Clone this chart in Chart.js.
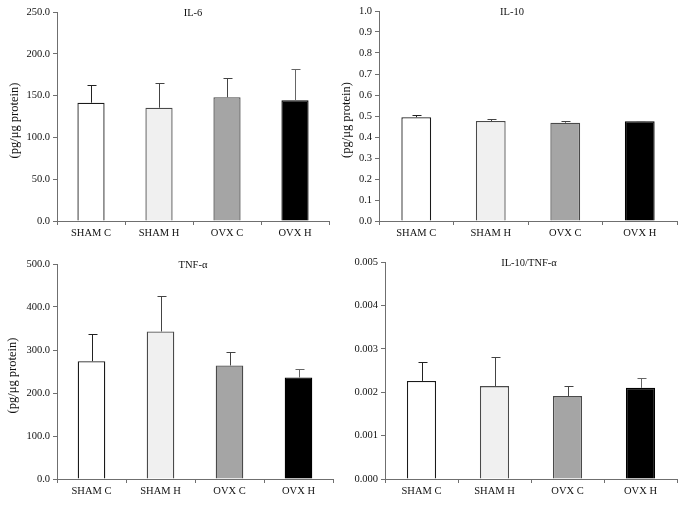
<!DOCTYPE html>
<html><head><meta charset="utf-8">
<script src="https://cdn.jsdelivr.net/npm/chart.js@4"></script>
<style>
html,body{margin:0;padding:0;background:#fff;}
#wrap{position:relative;width:685px;height:506px;overflow:hidden;background:#fff;}
canvas{position:absolute;}
</style></head><body>
<div id="wrap">
<canvas id="c1" width="340" height="245" style="left:0;top:0"></canvas>
<canvas id="c2" width="345" height="245" style="left:340px;top:0"></canvas>
<canvas id="c3" width="340" height="261" style="left:0;top:245px"></canvas>
<canvas id="c4" width="345" height="261" style="left:340px;top:245px"></canvas>
</div>
<script>
// ---- data ----
const categories = ['SHAM C', 'SHAM H', 'OVX C', 'OVX H'];
const il6Mean  = [141.5, 135.5, 148.0, 144.5];
const il6Err   = [21.0, 29.0, 23.0, 37.0];
const il10Mean = [0.494, 0.476, 0.468, 0.475];
const il10Err  = [0.012, 0.008, 0.010, 0.003];
const tnfMean  = [274, 343, 264, 236];
const tnfErr   = [63, 83, 31, 20];
const ratioMean = [0.00226, 0.00214, 0.00191, 0.00210];
const ratioErr  = [0.00044, 0.00066, 0.00024, 0.00022];
const titles = ['IL-6', 'IL-10', 'TNF-\u03B1', 'IL-10/TNF-\u03B1'];
const yLabel = '(pg/\u03BCg protein)';
const yMax  = [250, 1.0, 500, 0.005];
const yStep = [50, 0.1, 100, 0.001];
const yDecimals = [1, 1, 1, 3];

// ---- style ----
const FONT = "'Liberation Serif', 'Times New Roman', serif";
const FS = 10.5;
const axisColor = '#6f6f6f';
const textColor = '#111111';
const barFill   = ['#ffffff', '#f0f0f0', '#a5a5a5', '#000000'];
const barBorder = ['#1a1a1a', '#4a4a4a', '#4a4a4a', '#000000'];
const errColor  = ['#222222', '#444444', '#444444', '#666666'];

const decorPlugin = {
  id: 'decor',
  afterDatasetsDraw(chart, args, o) {
    const ctx = chart.ctx, ca = chart.chartArea, ys = chart.scales.y;
    const meta = chart.getDatasetMeta(0);
    const vals = chart.data.datasets[0].data;
    ctx.save();
    ctx.lineWidth = 1;
    meta.data.forEach((bar, i) => {
      const top = ys.getPixelForValue(vals[i] + o.errors[i]);
      const x = Math.round(bar.x) + 0.5;
      const ty = Math.round(top) + 0.5;
      ctx.strokeStyle = errColor[i];
      ctx.beginPath();
      ctx.moveTo(x, bar.y);
      ctx.lineTo(x, ty);
      ctx.moveTo(x - 4, ty);
      ctx.lineTo(x + 5, ty);
      ctx.stroke();
    });
    ctx.fillStyle = textColor;
    ctx.font = FS + 'px ' + FONT;
    ctx.textAlign = 'center';
    ctx.textBaseline = 'middle';
    ctx.fillText(o.title, (ca.left + ca.right) / 2 + o.titleDx, ca.top + 1);
    if (o.showY) {
      ctx.font = '12.5px ' + FONT;
      ctx.translate(o.yLabelX, (ca.top + ca.bottom) / 2 + 4);
      ctx.rotate(-Math.PI / 2);
      ctx.fillText(yLabel, 0, 0);
    }
    ctx.restore();
  }
};

function makeChart(id, idx, means, errs, L) {
  const cv = document.getElementById(id);
  const H = cv.height;
  new Chart(cv, {
    type: 'bar',
    data: {
      labels: categories,
      datasets: [{
        data: means,
        backgroundColor: barFill,
        borderColor: barBorder,
        borderWidth: 1.3,
        barPercentage: 0.4,
        categoryPercentage: 1.0
      }]
    },
    options: {
      responsive: false,
      animation: false,
      events: [],
      layout: { padding: { left: 0, top: L.top, right: L.right, bottom: 0 } },
      plugins: {
        legend: { display: false },
        tooltip: { enabled: false },
        decor: { errors: errs, title: titles[idx], titleDx: L.titleDx, showY: L.showY, yLabelX: L.yLabelX }
      },
      scales: {
        x: {
          offset: true,
          grid: { display: true, offset: true, drawOnChartArea: false, drawTicks: true, tickLength: 4, color: axisColor },
          border: { display: true, color: axisColor, width: 1 },
          ticks: { color: textColor, font: { family: FONT, size: FS }, padding: 2, maxRotation: 0, autoSkip: false },
          afterFit(s) { s.height = H - L.bottom; }
        },
        y: {
          min: 0, max: yMax[idx],
          grid: { display: true, drawOnChartArea: false, drawTicks: true, tickLength: 4, color: axisColor },
          border: { display: true, color: axisColor, width: 1 },
          ticks: {
            stepSize: yStep[idx],
            color: textColor,
            font: { family: FONT, size: FS },
            padding: 3,
            callback: v => Number(v).toFixed(yDecimals[idx])
          },
          afterFit(s) { s.width = L.left; }
        }
      }
    },
    plugins: [decorPlugin]
  });
}

makeChart('c1', 0, il6Mean, il6Err,   { left: 57, top: 12, right: 11, bottom: 221, titleDx: 0,   showY: true,  yLabelX: 15 });
makeChart('c2', 1, il10Mean, il10Err, { left: 39, top: 11, right: 8,  bottom: 221, titleDx: -16, showY: true,  yLabelX: 7 });
makeChart('c3', 2, tnfMean, tnfErr,   { left: 57, top: 19, right: 7,  bottom: 234, titleDx: -2,  showY: true,  yLabelX: 13 });
makeChart('c4', 3, ratioMean, ratioErr, { left: 45, top: 17, right: 8, bottom: 234, titleDx: -2, showY: false, yLabelX: 0 });
</script>
</body></html>
